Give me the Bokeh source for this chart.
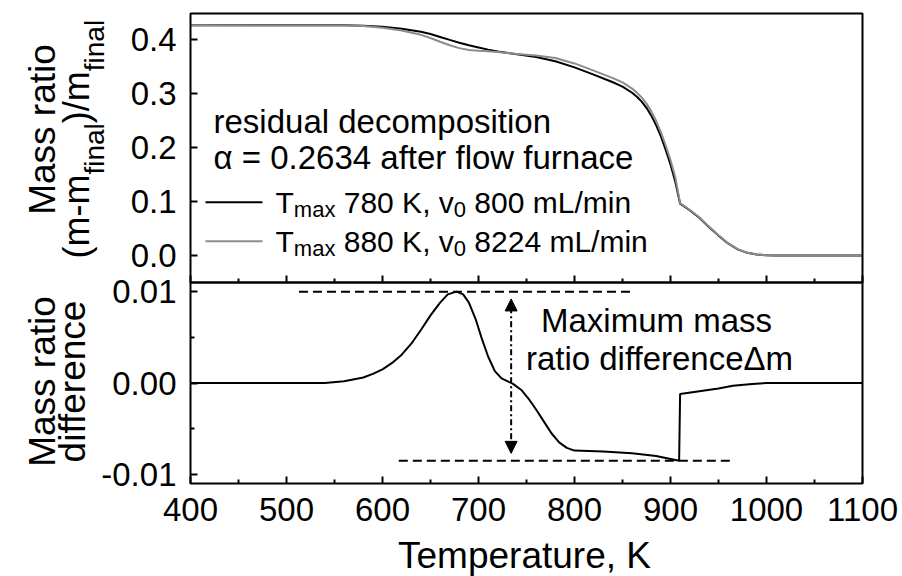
from bokeh.plotting import figure
from bokeh.models import (Range1d, FixedTicker, PrintfTickFormatter, LinearAxis, Label, Arrow,
                          NormalHead, BoxAnnotation)
from bokeh.embed import file_html
from bokeh.resources import INLINE

# ---------------- data ----------------
temp_780 = [400, 560, 580, 600, 620, 640, 650, 660, 670, 680, 690, 700, 710, 720, 740, 760,
            780, 800, 820, 840, 850, 860, 865, 870, 875, 880, 885, 890, 895, 900, 905, 910,
            920, 930, 940, 950, 960, 970, 980, 990, 1000, 1010, 1030, 1100]
mass_780 = [0.4270, 0.4270, 0.4262, 0.4242, 0.4207, 0.4152, 0.4110, 0.4055, 0.4000, 0.3947,
            0.3900, 0.3860, 0.3820, 0.3787, 0.3735, 0.3682, 0.3605, 0.3490, 0.3355, 0.3215,
            0.3135, 0.3020, 0.2945, 0.2855, 0.2740, 0.2595, 0.2420, 0.2210, 0.1960, 0.1690,
            0.1370, 0.0960, 0.0840, 0.0700, 0.0530, 0.0370, 0.0225, 0.0115, 0.0050, 0.0018,
            0.0005, 0.0002, 0.0, 0.0]

temp_880 = [400, 560, 580, 600, 620, 640, 650, 660, 670, 680, 690, 700, 710, 720, 740, 760,
            780, 800, 820, 840, 850, 860, 865, 870, 875, 880, 885, 890, 895, 900, 905, 910,
            920, 930, 940, 950, 960, 970, 980, 990, 1000, 1010, 1030, 1100]
mass_880 = [0.4270, 0.4268, 0.4256, 0.4227, 0.4176, 0.4094, 0.4036, 0.3967, 0.3902, 0.3848,
            0.3812, 0.3800, 0.3791, 0.3778, 0.3739, 0.3711, 0.3665, 0.3564, 0.3430, 0.3291,
            0.3211, 0.3097, 0.3022, 0.2933, 0.2818, 0.2674, 0.2500, 0.2291, 0.2042, 0.1773,
            0.1454, 0.0972, 0.0850, 0.0709, 0.0537, 0.0376, 0.0229, 0.0118, 0.0051, 0.0019,
            0.0005, 0.0002, 0.0, 0.0]

temp_diff = [400, 540, 560, 580, 590, 600, 610, 620, 630, 640, 650, 660, 668, 677, 684, 690,
             697, 703, 710, 717, 724, 730, 736, 745, 752, 760, 768, 776, 784, 792, 800, 830,
             860, 885, 909, 910, 930, 950, 965, 985, 1000, 1100]
mass_diff = [0, 0, 0.0002, 0.0006, 0.0010, 0.0015, 0.0022, 0.0031, 0.0043, 0.0058, 0.0074,
             0.0088, 0.0097, 0.0100, 0.0097, 0.0088, 0.0070, 0.0050, 0.0029, 0.0013, 0.0005,
             0.0002, -0.0001, -0.0008, -0.0017, -0.0029, -0.0042, -0.0055, -0.0065, -0.0071,
             -0.0074, -0.0075, -0.0077, -0.0080, -0.0085, -0.0012, -0.0009, -0.0006, -0.0003,
             -0.0001, 0, 0]

x_ticks = [400, 500, 600, 700, 800, 900, 1000, 1100]
x_minor = [450, 550, 650, 750, 850, 950, 1050]
top_ticks = [0.0, 0.1, 0.2, 0.3, 0.4]
bottom_ticks = [-0.01, 0.0, 0.01]
bottom_minor = [-0.005, 0.005]

# annotation extents (temperature) for the guide lines and arrow
guide_max_T = [513, 861]
guide_min_T = [617, 964]
arrow_T = 734
arrow_tips = [-0.0077, 0.0092]

# ---------------- layout (pixels) ----------------
W, H = 902, 576
FL, FR = 190, 862          # frame left / right
YT, YM, YB = 13, 282, 483  # top of upper panel, panel boundary, bottom of lower panel
x_lim = (400, 1100)
top_lim = (-0.05, 0.449)
diff_lim = (-0.011, 0.011)

kx = (x_lim[1] - x_lim[0]) / (FR - FL)
ky = (top_lim[1] - top_lim[0]) / (YM - YT)
kd = (diff_lim[1] - diff_lim[0]) / (YB - YM)
x_range = Range1d(x_lim[0] - FL * kx, x_lim[1] + (W - FR) * kx)
y_range = Range1d(top_lim[0] - (H - YM) * ky, top_lim[1] + YT * ky)
d_range = Range1d(diff_lim[0] - (H - YB) * kd, diff_lim[1] + YM * kd)

FONT = "Liberation Sans"
GRAY = "#8c8c8c"
MID = 0.3465   # distance (in em) from the alphabetic baseline up to the text middle

ADV = {' ': 278, '(': 333, ')': 333, '-': 333, '/': 278, ',': 278, '.': 278,
       'T': 611, 'K': 667, 'L': 556, 'a': 556, 'f': 278, 'i': 222, 'l': 222,
       'm': 833, 'n': 556, 'x': 500, 'v': 500}
for d in "0123456789":
    ADV[d] = 556


def tw(s, size):
    return sum(ADV.get(c, 556) for c in s) * size / 1000.0


def label(p, x, y, text, size, align="left", angle=0):
    """x, y: start/centre and alphabetic baseline position in canvas pixels."""
    if angle == 0:
        y = y - MID * size
    else:
        x = x - MID * size
    p.add_layout(Label(x=x, y=y, x_units="canvas", y_units="canvas", text=text,
                       text_font=FONT, text_font_size=f"{size}px", text_align=align,
                       text_baseline="middle", angle=angle, angle_units="deg",
                       text_color="black"))


def add_runs(p, runs, x, y, angle, main_size, sub_size, sub_shift):
    pos = 0.0
    for txt, sub in runs:
        size = sub_size if sub else main_size
        off = sub_shift if sub else 0
        lead = len(txt) - len(txt.lstrip(' '))
        start = pos + tw(' ' * lead, size)
        if angle == 0:
            label(p, x + start, y + off, txt.strip(), size)
        else:
            label(p, x + off, y - start, txt.strip(), size, angle=angle)
        pos += tw(txt, size)


def style_axis(ax, show_labels=True):
    ax.axis_line_color = None
    ax.major_tick_line_color = "black"
    ax.minor_tick_line_color = "black"
    ax.major_tick_line_width = 2
    ax.minor_tick_line_width = 2
    ax.major_tick_in = 7
    ax.major_tick_out = 0
    ax.minor_tick_in = 4
    ax.minor_tick_out = 0
    ax.major_label_text_font = FONT
    ax.major_label_text_font_size = "33px"
    ax.major_label_text_color = "black" if show_labels else None


p = figure(width=W, height=H, x_range=x_range, y_range=y_range,
           x_axis_type=None, y_axis_type=None, output_backend="svg", toolbar_location=None,
           min_border_left=0, min_border_right=0, min_border_top=0, min_border_bottom=0)
p.extra_y_ranges = {"diff": d_range}
p.grid.visible = False
p.outline_line_color = None
p.background_fill_color = "white"
p.border_fill_color = "white"

# panel frames
p.add_layout(BoxAnnotation(left=x_lim[0], right=x_lim[1], bottom=top_lim[0], top=top_lim[1],
                           fill_color=None, fill_alpha=0, line_color="black", line_alpha=1.0,
                           line_width=2))
p.add_layout(BoxAnnotation(left=x_lim[0], right=x_lim[1], bottom=diff_lim[0], top=diff_lim[1],
                           y_range_name="diff", fill_color=None, fill_alpha=0,
                           line_color="black", line_alpha=1.0, line_width=2))

# axes
ax_top_y = LinearAxis(fixed_location=x_lim[0], ticker=FixedTicker(ticks=top_ticks),
                      formatter=PrintfTickFormatter(format="%.1f"))
style_axis(ax_top_y)
ax_top_y.minor_tick_in = 0
ax_top_y.major_label_standoff = 14
p.add_layout(ax_top_y, "left")

ax_bot_y = LinearAxis(y_range_name="diff", fixed_location=x_lim[0],
                      ticker=FixedTicker(ticks=bottom_ticks, minor_ticks=bottom_minor),
                      formatter=PrintfTickFormatter(format="%.2f"))
style_axis(ax_bot_y)
ax_bot_y.major_label_standoff = 14
p.add_layout(ax_bot_y, "left")

ax_mid_x = LinearAxis(fixed_location=top_lim[0],
                      ticker=FixedTicker(ticks=x_ticks, minor_ticks=x_minor))
style_axis(ax_mid_x, show_labels=False)
p.add_layout(ax_mid_x, "below")

ax_bot_x = LinearAxis(y_range_name="diff", fixed_location=diff_lim[0],
                      ticker=FixedTicker(ticks=x_ticks, minor_ticks=x_minor))
style_axis(ax_bot_x)
ax_bot_x.major_label_standoff = 14
p.add_layout(ax_bot_x, "below")

# curves
p.line(temp_780, mass_780, line_color="black", line_width=2)
p.line(temp_880, mass_880, line_color=GRAY, line_width=2)
p.line(temp_diff, mass_diff, line_color="black", line_width=2, y_range_name="diff")

dmax = max(mass_diff)
dmin = min(mass_diff)
p.segment(x0=[guide_max_T[0]], y0=[dmax], x1=[guide_max_T[1]], y1=[dmax], y_range_name="diff",
          line_color="black", line_width=2, line_dash="9 5")
p.segment(x0=[guide_min_T[0]], y0=[dmin], x1=[guide_min_T[1]], y1=[dmin], y_range_name="diff",
          line_color="black", line_width=2, line_dash="9 5")
p.add_layout(Arrow(start=NormalHead(size=12, fill_color="black", line_color="black"),
                   end=NormalHead(size=12, fill_color="black", line_color="black"),
                   x_start=arrow_T, y_start=arrow_tips[0], x_end=arrow_T, y_end=arrow_tips[1],
                   y_range_name="diff", line_color="black", line_width=2,
                   line_dash="6 3 2 3"))

# texts
label(p, 213, 132, "residual decomposition", 33)
label(p, 213, 168, "\u03b1 = 0.2634 after flow furnace", 33)
for yy, col in [(201.7, "black"), (240.7, GRAY)]:
    p.add_layout(Arrow(end=None, x_start=205, y_start=yy, x_end=262, y_end=yy,
                       start_units="canvas", end_units="canvas", line_color=col, line_width=2))
add_runs(p, [("T", False), ("max", True), (" 780 K, v", False), ("0", True),
             (" 800 mL/min", False)], x=275, y=212, angle=0, main_size=30, sub_size=22,
         sub_shift=5)
add_runs(p, [("T", False), ("max", True), (" 880 K, v", False), ("0", True),
             (" 8224 mL/min", False)], x=275, y=251, angle=0, main_size=30, sub_size=22,
         sub_shift=5)

label(p, 656, 331.7, "Maximum mass", 33, align="center")
label(p, 659, 369.3, "ratio difference\u0394m", 33, align="center")

label(p, 524, 568, "Temperature, K", 37, align="center")

label(p, 55, 129, "Mass ratio", 37, align="center", angle=90)
add_runs(p, [("(m-m", False), ("final", True), (")/m", False), ("final", True)],
         x=88.5, y=258, angle=90, main_size=36, sub_size=28, sub_shift=15)
label(p, 55, 381, "Mass ratio", 37, align="center", angle=90)
label(p, 85, 381, "difference", 37, align="center", angle=90)

open("out.html", "w").write(file_html(p, INLINE))
